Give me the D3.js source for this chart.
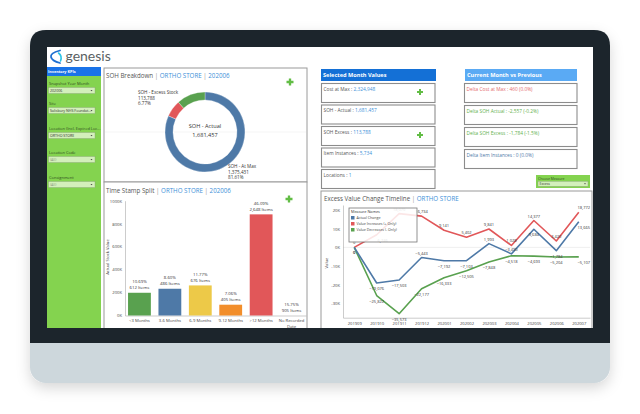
<!DOCTYPE html>
<html>
<head>
<meta charset="utf-8">
<script src="https://cdn.jsdelivr.net/npm/d3@7"></script>
<style>
html, body { margin: 0; padding: 0; background: #fff; }
svg { display: block; font-family: "Open Sans", Lato, sans-serif; }
</style>
</head>
<body>
<svg id="chart" width="640" height="414"></svg>
<script>
// --- DATOS ---
const filterLabels = ["Snapshot Year Month", "Site", "Location (Incl. Expired Loc...", "Location Code", "Consignment"];
const filterValues = ["202006", "Salisbury NHS Foundat...", "ORTHO STORE", "(All)", "(All)"];

const donutNames = ["SOH - At Max", "SOH - Excess Stock", "SOH - Other"];
const donutValues = [1375431, 113788, 195800];

const ageBands = ["<3 Months", "3-6 Months", "6-9 Months", "9-12 Months", ">12 Months", "No Recorded Date"];
const ageValues = [198000, 233000, 262000, 94000, 881000, 0];
const agePct = ["10.69%", "8.60%", "11.77%", "7.06%", "46.09%", "15.75%"];
const ageItems = [612, 486, 676, 405, 2648, 905];

const selectedLabels = ["Cost at Max", "SOH - Actual", "SOH Excess", "Item Instances", "Locations"];
const selectedValues = ["2,324,948", "1,681,457", "113,788", "5,734", "1"];

const deltaLabels = ["Delta Cost at Max", "Delta SOH Actual", "Delta SOH Excess", "Delta Item Instances"];
const deltaValues = ["460 (0.0%)", "-2,557 (-0.2%)", "-1,784 (-1.5%)", "0 (0.0%)"];

const months = ["201909", "201910", "201911", "201912", "202001", "202002", "202003", "202004", "202005", "202006", "202007"];
const actualChange = [0, -19076, -17503, -5443, -7192, -7103, 1993, -3490, 9684, -1784, 13665];
const valueIncreases = [0, 6746, 18070, 16734, 9141, 5402, 9841, 1028, 14377, 3420, 18772];
const valueDecreases = [0, -25822, -35573, -22177, -16333, -12505, -7848, -4518, -4693, -5204, -5107];
const seriesNames = ["Actual Change", "Value Increases (+ Only)", "Value Decreases (- Only)"];

// --- COLORES ---
const tBlue = "#4e79a7", tRed = "#e15759", tGreen = "#59a14f";
const ageColors = [tGreen, tBlue, "#edc948", "#f28e2b", tRed, "#bab0ac"];
const titleGrey = "#555", linkBlue = "#3d8fd8";

const svg = d3.select("#chart");
const fmt = d3.format(",");

// sombra del marco
const defs = svg.append("defs");
const shadow = defs.append("filter").attr("id", "shadow")
    .attr("x", -0.1).attr("y", -0.1).attr("width", 1.2).attr("height", 1.25);
shadow.append("feDropShadow").attr("dx", 0).attr("dy", 5)
    .attr("stdDeviation", 7).attr("flood-color", "#000").attr("flood-opacity", 0.16);

defs.append("clipPath").attr("id", "screen")
    .append("rect").attr("x", 47).attr("y", 47).attr("width", 546).attr("height", 281);

// --- MARCO DEL DISPOSITIVO ---
svg.append("rect").attr("x", 30).attr("y", 30).attr("width", 580).attr("height", 353)
    .attr("rx", 16).attr("fill", "#cdd7dc").attr("filter", "url(#shadow)");
svg.append("path")
    .attr("d", "M30,343 L30,46 Q30,30 46,30 L594,30 Q610,30 610,46 L610,343 Z")
    .attr("fill", "#1c252c");

const screen = svg.append("g").attr("clip-path", "url(#screen)");
screen.append("rect").attr("x", 47).attr("y", 47).attr("width", 546).attr("height", 281).attr("fill", "#fff");

// logo
const logo = screen.append("g");
logo.append("path").attr("d", "M60,50.5 Q50,53 51,57 Q52,61 60,63")
    .attr("fill", "none").attr("stroke", "#1f6fd1").attr("stroke-width", 1.8).attr("stroke-linecap", "round");
logo.append("path").attr("d", "M58.5,53 Q62.5,56 60.5,61")
    .attr("fill", "none").attr("stroke", "#2cc3e6").attr("stroke-width", 1.6).attr("stroke-linecap", "round");
logo.append("text").attr("x", 65.5).attr("y", 60.5).attr("font-size", 14)
    .attr("fill", "#5a5f63").attr("font-family", "Lato, 'Open Sans', sans-serif").text("genesis");

// --- BARRA LATERAL ---
screen.append("rect").attr("x", 47).attr("y", 67).attr("width", 54).attr("height", 262).attr("fill", "#84d34f");
screen.append("rect").attr("x", 47).attr("y", 67).attr("width", 54).attr("height", 9).attr("fill", "#1a73e8");
screen.append("text").attr("x", 48).attr("y", 73.2).attr("font-size", 3.8).attr("font-weight", "bold")
    .attr("fill", "#fff").text("Inventory KPIs");

const filterY = [83, 103, 128, 152, 177];
filterLabels.forEach((lab, i) => {
    const y = filterY[i];
    screen.append("text").attr("x", 49).attr("y", y + 1.5).attr("font-size", 4).attr("fill", "#2f4a22").text(lab);
    screen.append("rect").attr("x", 48.5).attr("y", y + 4.5).attr("width", 46.5).attr("height", 6)
        .attr("fill", "#d3efbb").attr("stroke", "#8aa07a").attr("stroke-width", 0.4);
    screen.append("text").attr("x", 50).attr("y", y + 8.9).attr("font-size", 3.6)
        .attr("fill", i > 2 ? "#8a9a80" : "#333").text(filterValues[i]);
    screen.append("path").attr("d", `M90.5,${y + 7} l2,0 l-1,1.3 z`).attr("fill", "#444");
});

// --- PANELES ---
function panel(x, y, w, h) {
    screen.append("rect").attr("x", x).attr("y", y).attr("width", w).attr("height", h)
        .attr("fill", "#fff").attr("stroke", "#9a9a9a").attr("stroke-width", 1);
}
function panelTitle(x, y, plain, parts) {
    const t = screen.append("text").attr("x", x).attr("y", y).attr("font-size", 6.2).attr("fill", titleGrey);
    t.append("tspan").text(plain);
    parts.forEach(p => {
        t.append("tspan").attr("fill", "#999").text(" | ");
        t.append("tspan").attr("fill", linkBlue).text(p);
    });
}
function plus(cx, cy, s) {
    const a = s / 2, b = s / 6;
    screen.append("path")
        .attr("d", `M${cx - b},${cy - a}h${2 * b}v${a - b}h${a - b}v${2 * b}h${-(a - b)}v${a - b}h${-2 * b}v${-(a - b)}h${-(a - b)}v${-2 * b}h${a - b}z`)
        .attr("fill", "#62bd45");
}

panel(104, 68, 203, 114);
panel(104, 182, 203, 150);
panel(321, 191, 271, 140);

// --- DONA: SOH BREAKDOWN ---
panelTitle(106, 78, "SOH Breakdown", ["ORTHO STORE", "202006"]);
plus(290, 82, 7);
screen.append("line").attr("x1", 105).attr("x2", 306).attr("y1", 132).attr("y2", 132)
    .attr("stroke", "#efefef").attr("stroke-width", 0.6);

const pie = d3.pie().sort(null).value(d => d)(donutValues);
const arc = d3.arc().innerRadius(32).outerRadius(40);
const donut = screen.append("g").attr("transform", "translate(205,132)");
donut.selectAll("path").data(pie).join("path")
    .attr("d", arc)
    .attr("fill", (d, i) => [tBlue, tRed, tGreen][i])
    .attr("stroke", "#fff").attr("stroke-width", 0.3);

const lbl = (x, y, lines) => {
    const t = screen.append("text").attr("x", x).attr("y", y).attr("font-size", 4.6).attr("fill", "#333");
    lines.forEach((l, i) => t.append("tspan").attr("x", x).attr("dy", i ? 5.6 : 0).text(l));
};
lbl(138, 94, [donutNames[1], fmt(donutValues[1]), "6.77%"]);
lbl(228, 168, [donutNames[0], fmt(donutValues[0]), "81.61%"]);
screen.append("text").attr("x", 205).attr("y", 128).attr("text-anchor", "middle").attr("font-size", 5.6)
    .attr("fill", "#333").text("SOH - Actual");
screen.append("text").attr("x", 205).attr("y", 137).attr("text-anchor", "middle").attr("font-size", 5.6)
    .attr("fill", "#333").text("1,681,457");

// --- BARRAS: TIME STAMP SPLIT ---
panelTitle(106, 193, "Time Stamp Split", ["ORTHO STORE", "202006"]);
plus(289, 199, 7);

const xBar = d3.scaleBand().domain(ageBands).range([125, 306]).paddingInner(0.25).paddingOuter(0.1);
const yBar = d3.scaleLinear().domain([0, 1000000]).range([315.5, 200.7]);

const yAxisBar = screen.append("g").attr("transform", "translate(125,0)")
    .call(d3.axisLeft(yBar).tickValues([0, 200000, 400000, 600000, 800000, 1000000])
        .tickFormat(d => d / 1000 + "K").tickSize(0).tickPadding(3));
yAxisBar.select(".domain").attr("stroke", "#aaa").attr("stroke-width", 0.6);
yAxisBar.selectAll("text").attr("font-size", 4.2).attr("fill", "#444").attr("font-family", "'Open Sans', sans-serif");

const xAxisBar = screen.append("g").attr("transform", "translate(0,315.5)")
    .call(d3.axisBottom(xBar).tickSize(0).tickPadding(4));
xAxisBar.select(".domain").attr("stroke", "#aaa").attr("stroke-width", 0.6);
xAxisBar.selectAll("text").attr("font-size", 4.2).attr("fill", "#444").attr("font-family", "'Open Sans', sans-serif")
    .each(function (d) {
        if (d === "No Recorded Date") {
            const t = d3.select(this).text("");
            t.append("tspan").attr("x", 0).text("No Recorded");
            t.append("tspan").attr("x", 0).attr("dy", 5.5).text("Date");
        }
    });

screen.append("text").attr("transform", "translate(109,257) rotate(-90)").attr("text-anchor", "middle")
    .attr("font-size", 4.2).attr("fill", "#444").text("Actual Stock Value");

screen.append("g").selectAll("rect").data(ageBands).join("rect")
    .attr("x", d => xBar(d))
    .attr("y", (d, i) => yBar(ageValues[i]))
    .attr("width", xBar.bandwidth())
    .attr("height", (d, i) => yBar(0) - yBar(ageValues[i]))
    .attr("fill", (d, i) => ageColors[i]);

const barLbl = screen.append("g").attr("font-size", 4.3).attr("fill", "#333").attr("text-anchor", "middle");
ageBands.forEach((d, i) => {
    const cx = xBar(d) + xBar.bandwidth() / 2;
    const top = yBar(ageValues[i]);
    barLbl.append("text").attr("x", cx).attr("y", top - 9.5).text(agePct[i]);
    barLbl.append("text").attr("x", cx).attr("y", top - 3.5).text(fmt(ageItems[i]) + " Items");
});

// --- CAJAS KPI ---
screen.append("rect").attr("x", 321).attr("y", 69).attr("width", 115).attr("height", 12).attr("fill", "#1470d6");
screen.append("text").attr("x", 323).attr("y", 77.3).attr("font-size", 5.6).attr("font-weight", "bold")
    .attr("fill", "#fff").text("Selected Month Values");
selectedLabels.forEach((lab, i) => {
    const y = 83.5 + i * 21.5;
    screen.append("rect").attr("x", 321.5).attr("y", y).attr("width", 113.5).attr("height", 19)
        .attr("fill", "#fff").attr("stroke", "#8c8c8c").attr("stroke-width", 1.1);
    const t = screen.append("text").attr("x", 323.5).attr("y", y + 7).attr("font-size", 4.8).attr("fill", "#555");
    t.append("tspan").text(lab + " : ");
    t.append("tspan").attr("fill", linkBlue).text(selectedValues[i]);
    if (i === 0 || i === 2) plus(420, y + 8.5, 6);
});

screen.append("rect").attr("x", 465).attr("y", 69).attr("width", 112).attr("height", 12).attr("fill", "#5aaaf4");
screen.append("text").attr("x", 467).attr("y", 77.3).attr("font-size", 5.6).attr("font-weight", "bold")
    .attr("fill", "#fff").text("Current Month vs Previous");
const deltaColors = ["#e46a6c", "#5fb14e", "#5fb14e", "#4e79a7"];
deltaLabels.forEach((lab, i) => {
    const y = 83.5 + i * 22;
    screen.append("rect").attr("x", 464.5).attr("y", y).attr("width", 112.5).attr("height", 19)
        .attr("fill", "#fff").attr("stroke", "#8c8c8c").attr("stroke-width", 1.1);
    screen.append("text").attr("x", 466.5).attr("y", y + 7.5).attr("font-size", 4.8)
        .attr("fill", deltaColors[i]).text(lab + " : " + deltaValues[i]);
});

// selector de medida
screen.append("rect").attr("x", 536).attr("y", 175).attr("width", 54).attr("height", 13).attr("fill", "#84d34f");
screen.append("text").attr("x", 538).attr("y", 179.8).attr("font-size", 3.4).attr("fill", "#2f4a22").text("Choose Measure");
screen.append("rect").attr("x", 538).attr("y", 181.3).attr("width", 50).attr("height", 5)
    .attr("fill", "#d3efbb").attr("stroke", "#8aa07a").attr("stroke-width", 0.4);
screen.append("text").attr("x", 539.5).attr("y", 185).attr("font-size", 3.4).attr("fill", "#333").text("Excess");
screen.append("path").attr("d", "M584,183.3 l2,0 l-1,1.2 z").attr("fill", "#444");

// --- LÍNEAS: EXCESS VALUE CHANGE TIMELINE ---
panelTitle(324, 201, "Excess Value Change Timeline", ["ORTHO STORE"]);

const xLine = d3.scalePoint().domain(months).range([343, 590]).padding(0.5);
const yLine = d3.scaleLinear().domain([-37700, 22700]).range([317.7, 205]);

screen.append("line").attr("x1", 343).attr("x2", 590).attr("y1", yLine(0)).attr("y2", yLine(0))
    .attr("stroke", "#e2e2e2").attr("stroke-width", 0.6);

const yAxisLine = screen.append("g").attr("transform", "translate(343,0)")
    .call(d3.axisLeft(yLine).tickValues([-30000, -20000, -10000, 0, 10000, 20000])
        .tickFormat(d => d / 1000 + "K").tickSize(0).tickPadding(3));
yAxisLine.select(".domain").attr("stroke", "#aaa").attr("stroke-width", 0.6);
yAxisLine.selectAll("text").attr("font-size", 4.2).attr("fill", "#444").attr("font-family", "'Open Sans', sans-serif");

const xAxisLine = screen.append("g").attr("transform", "translate(0,317.7)")
    .call(d3.axisBottom(xLine).tickSize(0).tickPadding(4));
xAxisLine.select(".domain").attr("stroke", "#aaa").attr("stroke-width", 0.6);
xAxisLine.selectAll("text").attr("font-size", 4.1).attr("fill", "#444").attr("font-family", "'Open Sans', sans-serif");

screen.append("text").attr("transform", "translate(328,263) rotate(-90)").attr("text-anchor", "middle")
    .attr("font-size", 4.2).attr("fill", "#444").text("Value");

// etiquetas: arriba (-3) o abajo (+7) según el punto
const series = [
    { name: seriesNames[1], values: valueIncreases, color: tRed,
      dy: [-3, 7, -3, -3, -3, -3, -3, -3, -3, -3, -3] },
    { name: seriesNames[2], values: valueDecreases, color: tGreen,
      dy: [7, 7, 7, 7, 7, 7, 7, 7, 7, 7, 7] },
    { name: seriesNames[0], values: actualChange, color: tBlue,
      dy: [7, 7, 7, -3, 7, 7, -3, -3, 7, 7, 7] }
];
const line = d3.line().x((d, i) => xLine(months[i])).y(d => yLine(d));

series.forEach(s => {
    screen.append("path").datum(s.values).attr("d", line)
        .attr("fill", "none").attr("stroke", s.color).attr("stroke-width", 1.6).attr("stroke-linejoin", "round");
});
series.forEach(s => {
    screen.append("g").attr("font-size", 4).attr("fill", "#333").attr("text-anchor", "middle")
        .selectAll("text").data(s.values).join("text")
        .attr("x", (d, i) => xLine(months[i]) + (i === months.length - 1 ? 5 : (i === 1 && s.color === tRed ? 6 : 0)))
        .attr("y", (d, i) => yLine(d) + s.dy[i])
        .text(d => fmt(d));
});

// leyenda
const leg = screen.append("g").attr("transform", "translate(349,208)");
leg.append("rect").attr("width", 68).attr("height", 34).attr("fill", "#fff").attr("fill-opacity", 0.85)
    .attr("stroke", "#777").attr("stroke-width", 0.8);
leg.append("text").attr("x", 2).attr("y", 5).attr("font-size", 3.8).attr("fill", "#333").text("Measure Names");
seriesNames.forEach((n, i) => {
    leg.append("rect").attr("x", 2).attr("y", 8 + i * 6).attr("width", 3.5).attr("height", 3.5)
        .attr("fill", [tBlue, tRed, tGreen][i]);
    leg.append("text").attr("x", 7.5).attr("y", 11 + i * 6).attr("font-size", 3.6).attr("fill", "#444").text(n);
});
</script>
</body>
</html>
